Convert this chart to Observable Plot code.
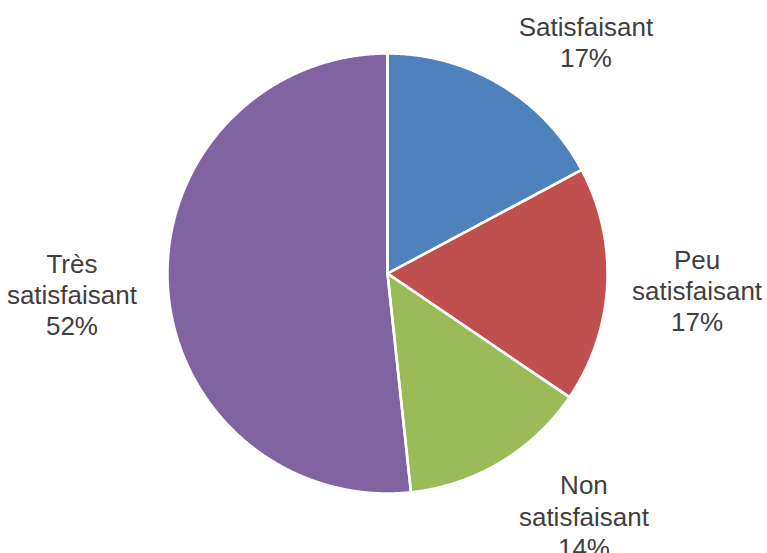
<!DOCTYPE html>
<html>
<head>
<meta charset="utf-8">
<script src="https://cdn.jsdelivr.net/npm/d3@7"></script>
<script src="https://cdn.jsdelivr.net/npm/@observablehq/plot@0.6"></script>
<style>
  html, body { margin: 0; padding: 0; background: #fff; }
  #chart svg { display: block; }
</style>
</head>
<body>
<div id="chart"></div>
<script>
// Data (clockwise from 12 o'clock)
const categories = ["Satisfaisant", "Peu satisfaisant", "Non satisfaisant", "Très satisfaisant"];
const values = [17.2, 17.3, 13.8, 51.7];
const labelNames = ["Satisfaisant", "Peu\nsatisfaisant", "Non\nsatisfaisant", "Très\nsatisfaisant"];
const colors = ["#4F81BD", "#C0504D", "#9BBB59", "#8064A2"];

const rows = categories.map((c, i) => ({cat: c, value: values[i], name: labelNames[i]}));
const total = d3.sum(values);
const arcs = d3.pie().sort(null).value(d => d.value)(rows);

// Build slice polygons (unit radius, y up)
const pts = [];
arcs.forEach(a => {
  const cat = a.data.cat;
  pts.push({cat, x: 0, y: 0});
  const n = Math.max(2, Math.ceil((a.endAngle - a.startAngle) / 0.005));
  for (let k = 0; k <= n; k++) {
    const t = a.startAngle + (a.endAngle - a.startAngle) * k / n;
    pts.push({cat, x: Math.sin(t), y: Math.cos(t)});
  }
  pts.push({cat, x: 0, y: 0});
});

// Label anchors along mid-angle
const labelR = 1.4;
const labels = arcs.map(a => {
  const m = (a.startAngle + a.endAngle) / 2;
  return {
    cat: a.data.cat,
    x: labelR * Math.sin(m),
    y: labelR * Math.cos(m),
    text: a.data.name + "\n" + Math.round(a.data.value / total * 100) + "%"
  };
});
// layout nudges (pixels) to mimic the original's label placement
const nudge = {
  "Satisfaisant": [40, 32],
  "Peu satisfaisant": [2, 0],
  "Non satisfaisant": [38, -22],
  "Très satisfaisant": [-8, 4]
};

const chart = Plot.plot({
  width: 767,
  height: 553,
  marginLeft: 167,
  marginRight: 160,
  marginTop: 53,
  marginBottom: 60,
  x: {domain: [-1, 1], axis: null},
  y: {domain: [-1, 1], axis: null},
  color: {domain: categories, range: colors},
  style: {overflow: "visible", background: "white"},
  marks: [
    Plot.line(pts, {x: "x", y: "y", z: "cat", fill: "cat", stroke: null, curve: "linear"}),
    Plot.line(pts, {x: "x", y: "y", z: "cat", stroke: "white", strokeWidth: 2.5, strokeLinejoin: "round", curve: "linear"}),
    ...labels.map(l => Plot.text([l], {
      x: "x", y: "y", text: "text",
      fill: "#404040",
      fontSize: 26,
      fontFamily: "'Liberation Sans', Arial, sans-serif",
      lineHeight: 1.2,
      textAnchor: "middle",
      dx: nudge[l.cat][0],
      dy: nudge[l.cat][1]
    }))
  ]
});
document.getElementById("chart").appendChild(chart);
</script>
</body>
</html>
